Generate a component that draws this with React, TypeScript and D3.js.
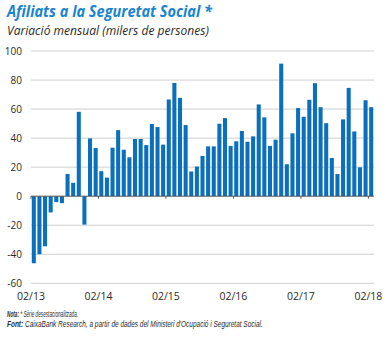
import React, { useLayoutEffect, useRef, useState } from "react";
import * as d3 from "d3";

const startYear = 2013;
const values: number[] = [
  -46.2, -40, -34.5, -11.2, -4.1, -4.8, 15.3, 9.2, 58.1, -19.6, 39.8, 33.2,
  17.2, 12.8, 33.4, 45.5, 32, 26.8, 39.4, 39.4, 35.2, 49.7, 47.6, 35.5,
  66.6, 78, 67.7, 49, 17, 20.4, 27.7, 34.3, 34.3, 49.9, 53.8, 34.6,
  37.8, 44.9, 37.5, 41.2, 63.2, 54.3, 34.6, 38.9, 91.3, 22, 43.3, 60.7,
  54.7, 66.4, 77.8, 61.3, 50.3, 26.3, 15.3, 52.9, 74.6, 44.6, 19.9, 66.1,
  61.3,
];
const months: string[] = values.map((_, i) => {
  const m = ((1 + i) % 12) + 1;
  const y = startYear + Math.floor((1 + i) / 12);
  return `${String(m).padStart(2, "0")}/${String(y).slice(2)}`;
});
const yTicks: number[] = [-60, -40, -20, 0, 20, 40, 60, 80, 100];
const xTickLabels: string[] = ["02/13", "02/14", "02/15", "02/16", "02/17", "02/18"];

const W = 391;
const H = 338;
const BAR = "#0a6fbd";
const TITLE = "#1b84cf";
const TEXT = "#2a2a2a";
const FF = "'Open Sans', sans-serif";
const FN = "'Liberation Sans', Arial, sans-serif";

function FitLine({ x, y, width, bold, rest }: { x: number; y: number; width: number; bold: string; rest: string }) {
  const ref = useRef<SVGTextElement>(null);
  const [s, setS] = useState(0.6);
  useLayoutEffect(() => {
    if (ref.current) {
      const w = ref.current.getComputedTextLength();
      if (w > 0) setS(width / w);
    }
  }, [width]);
  return (
    <g transform={`translate(${x},${y}) scale(${s},1)`}>
      <text ref={ref} x={0} y={0} fontFamily={FN} fontStyle="italic" fontSize={8.5} fill={TEXT}>
        <tspan fontWeight={700}>{bold}</tspan>
        <tspan> {rest}</tspan>
      </text>
    </g>
  );
}

export default function App() {
  const slot = d3.scaleBand<string>().domain(months).range([31, 374]).padding(0);
  const y = d3.scaleLinear().domain([-60, 100]).range([283.3, 51]);
  const bw = slot.bandwidth();
  const pad = 0.14;

  return (
    <svg width={W} height={H} style={{ position: "absolute", left: 0, top: 0, background: "#fff" }}>
      <text x={7} y={17} fontFamily={FF} fontWeight={700} fontStyle="italic"
        fontSize={15.5} fill={TITLE} textLength={205} lengthAdjust="spacingAndGlyphs">
        Afiliats a la Seguretat Social *
      </text>
      <text x={7} y={34.5} fontFamily={FF} fontStyle="italic"
        fontSize={12.5} fill={TEXT} textLength={202} lengthAdjust="spacingAndGlyphs">
        Variació mensual (milers de persones)
      </text>

      {yTicks.map((t) => (
        <g key={t}>
          {t !== 0 && (
            <line x1={31} x2={374} y1={y(t)} y2={y(t)} stroke="#cfcfcf" strokeWidth={1} />
          )}
          <text x={22} y={y(t)} dy="0.35em" textAnchor="end"
            fontFamily={FF} fontSize={10} fill={TEXT}>
            {t}
          </text>
        </g>
      ))}

      {values.map((v, i) => {
        const x0 = (slot(months[i]) as number) + bw * pad;
        return (
          <rect key={i} x={x0} width={bw * (1 - 2 * pad)}
            y={Math.min(y(v), y(0))} height={Math.abs(y(v) - y(0))} fill={BAR} />
        );
      })}

      <line x1={31} x2={374} y1={y(0)} y2={y(0)} stroke="#555" strokeWidth={1} />
      {xTickLabels.map((lab, k) => {
        const i = k * 12;
        const xx = i < months.length ? (slot(months[i]) as number) : 374;
        return (
          <g key={lab}>
            <line x1={xx} x2={xx} y1={y(0)} y2={y(0) + 2.5} stroke="#555" strokeWidth={1} />
            <text x={xx} y={299.5} textAnchor="middle"
              fontFamily={FF} fontSize={10.5} fill={TEXT}>
              {lab}
            </text>
          </g>
        );
      })}

      <FitLine x={7} y={317} width={71} bold="Nota:" rest="* Sèrie desestacionalitzada." />
      <FitLine x={7} y={327} width={256} bold="Font:"
        rest="CaixaBank Research, a partir de dades del Ministeri d'Ocupació i Seguretat Social." />
    </svg>
  );
}
